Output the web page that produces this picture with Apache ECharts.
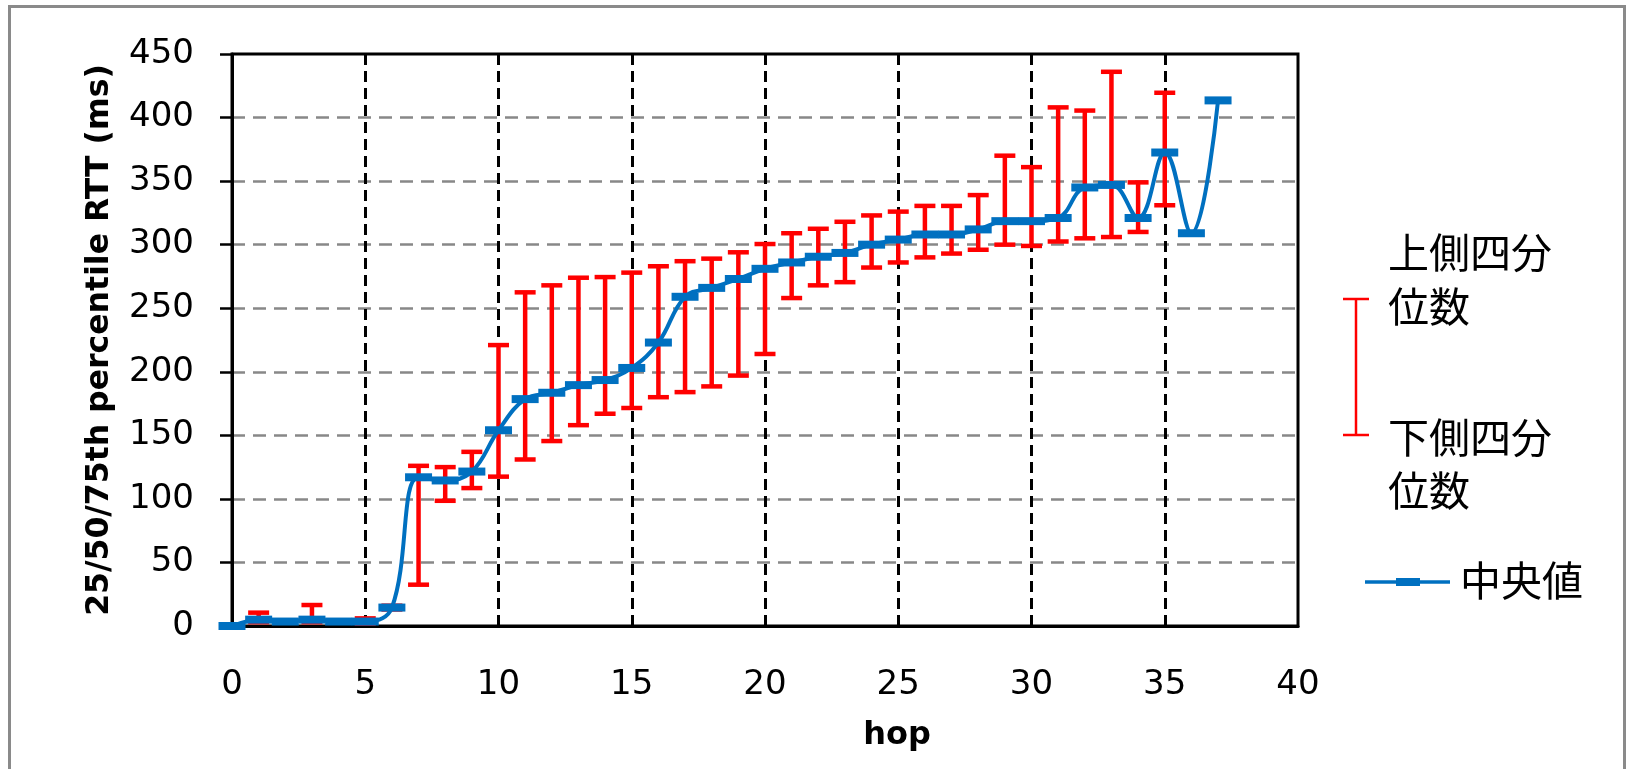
<!DOCTYPE html>
<html>
<head>
<meta charset="utf-8">
<script src="https://cdn.jsdelivr.net/npm/echarts@6/dist/echarts.min.js"></script>
<style>
html, body { margin: 0; padding: 0; background: #fff; }
#main { width: 1626px; height: 769px; }
</style>
</head>
<body>
<div id="main"></div>
<script>
// hop number
var hops = [0, 1, 2, 3, 4, 5, 6, 7, 8, 9, 10, 11, 12, 13, 14, 15, 16, 17, 18, 19,
            20, 21, 22, 23, 24, 25, 26, 27, 28, 29, 30, 31, 32, 33, 34, 35, 36, 37];
// 中央値 (ms)
var median = [0, 5, 3.5, 5, 3.5, 3.5, 14.5, 117, 114.5, 121.5,
              154, 178.5, 183.5, 189.5, 193.5, 203, 223, 259, 266, 273,
              281, 286, 290.5, 293.5, 300, 304, 308, 308, 312, 318.5,
              318.5, 321, 345, 347, 321, 372.5, 309, 413.5];
// 下側四分位数 (ms)
var lowerQ = [null, 3, null, 3, null, 2, 13, 32.5, 98.5, 108.5,
              117.5, 131, 145.5, 158, 167, 171.5, 180, 184, 188.5, 197,
              214, 258, 268, 270.5, 282, 286, 290, 293, 296, 300,
              299, 302.5, 305, 306, 310, 331, null, null];
// 上側四分位数 (ms)
var upperQ = [null, 10.5, null, 16.5, null, 6, 16, 126, 125, 137,
              221, 262.5, 268, 274, 274.5, 278, 283, 287, 289, 294,
              300.5, 309, 312.5, 318, 323, 326, 330.5, 330.5, 339, 370,
              361, 408, 405.5, 436, 349, 419.5, null, null];

var xTicks = { min: 0, max: 40, interval: 5 };
var yTicks = { min: 0, max: 450, interval: 50 };

var lineData = hops.map(function (h, i) { return [h, median[i]]; });
var barData = [];
hops.forEach(function (h, i) {
    if (lowerQ[i] != null && upperQ[i] != null) barData.push([h, lowerQ[i], upperQ[i]]);
});

var chart = echarts.init(document.getElementById('main'));
var red = '#FF0000';
var blue = '#0070C0';

var option = {
    backgroundColor: '#fff',
    animation: false,
    grid: {
        left: 232, right: 328, top: 54, bottom: 143,
        show: true, borderColor: '#000', borderWidth: 3, backgroundColor: 'transparent'
    },
    xAxis: {
        type: 'value',
        min: xTicks.min, max: xTicks.max, interval: xTicks.interval,
        name: 'hop',
        nameLocation: 'middle',
        nameGap: 94,
        nameTextStyle: {
            fontFamily: 'DejaVu Sans', fontWeight: 'bold', fontSize: 32, color: '#000',
            padding: [0, 0, 0, 264]
        },
        axisLine: { show: true, lineStyle: { color: '#000', width: 3 } },
        axisTick: { show: false },
        axisLabel: { margin: 42, fontFamily: 'DejaVu Sans', fontSize: 34, color: '#000' },
        splitLine: {
            show: true, showMinLine: false, showMaxLine: false,
            lineStyle: { color: '#000', width: 3, type: [11, 6] }
        }
    },
    yAxis: {
        type: 'value',
        min: yTicks.min, max: yTicks.max, interval: yTicks.interval,
        name: '25/50/75th percentile RTT (ms)',
        nameLocation: 'middle',
        nameRotate: 90,
        nameGap: 116,
        nameTextStyle: { fontFamily: 'DejaVu Sans', fontWeight: 'bold', fontSize: 31.5, color: '#000' },
        axisLine: { show: true, lineStyle: { color: '#000', width: 3 } },
        axisTick: { show: true, length: 12, lineStyle: { color: '#000', width: 2.5 } },
        axisLabel: { margin: 38, fontFamily: 'DejaVu Sans', fontSize: 34, color: '#000' },
        splitLine: {
            show: true, showMinLine: false, showMaxLine: false,
            lineStyle: { color: '#888888', width: 2.5, type: [13, 8] }
        }
    },
    series: [
        {
            name: '四分位数',
            type: 'custom',
            z: 1,
            clip: false,
            data: barData,
            renderItem: function (params, api) {
                var x = api.value(0);
                var top = api.coord([x, api.value(2)]);
                var bot = api.coord([x, api.value(1)]);
                var half = 10.5;
                var st = { stroke: red, lineWidth: 4.5 };
                return {
                    type: 'group',
                    children: [
                        { type: 'line', shape: { x1: top[0], y1: top[1], x2: bot[0], y2: bot[1] }, style: st },
                        { type: 'line', shape: { x1: top[0] - half, y1: top[1], x2: top[0] + half, y2: top[1] }, style: st },
                        { type: 'line', shape: { x1: bot[0] - half, y1: bot[1], x2: bot[0] + half, y2: bot[1] }, style: st }
                    ]
                };
            }
        },
        {
            name: '中央値',
            type: 'line',
            z: 3,
            clip: false,
            smooth: 0.4,
            data: lineData,
            symbol: 'rect',
            symbolSize: [27, 8],
            showAllSymbol: true,
            lineStyle: { color: blue, width: 4 },
            itemStyle: { color: blue }
        }
    ],
    graphic: [
        {
            type: 'rect', silent: true, z: 0,
            shape: { x: 9.5, y: 6.5, width: 1615, height: 800 },
            style: { fill: 'none', stroke: '#8a8a8a', lineWidth: 3 }
        },
        // legend: error bar
        { type: 'line', shape: { x1: 1356, y1: 299, x2: 1356, y2: 435 }, style: { stroke: red, lineWidth: 2.5 } },
        { type: 'line', shape: { x1: 1343, y1: 299, x2: 1369, y2: 299 }, style: { stroke: red, lineWidth: 2.5 } },
        { type: 'line', shape: { x1: 1343, y1: 435, x2: 1369, y2: 435 }, style: { stroke: red, lineWidth: 2.5 } },
        { type: 'text', x: 1388, y: 252, style: { text: '上側四分', fontFamily: 'Noto Sans CJK JP', fontSize: 41, fill: '#000', verticalAlign: 'middle' } },
        { type: 'text', x: 1388, y: 306, style: { text: '位数', fontFamily: 'Noto Sans CJK JP', fontSize: 41, fill: '#000', verticalAlign: 'middle' } },
        { type: 'text', x: 1388, y: 437, style: { text: '下側四分', fontFamily: 'Noto Sans CJK JP', fontSize: 41, fill: '#000', verticalAlign: 'middle' } },
        { type: 'text', x: 1388, y: 490, style: { text: '位数', fontFamily: 'Noto Sans CJK JP', fontSize: 41, fill: '#000', verticalAlign: 'middle' } },
        // legend: median line
        { type: 'line', shape: { x1: 1365, y1: 582, x2: 1450, y2: 582 }, style: { stroke: blue, lineWidth: 3.5 } },
        { type: 'rect', shape: { x: 1396, y: 578, width: 24, height: 8 }, style: { fill: blue } },
        { type: 'text', x: 1460, y: 580, style: { text: '中央値', fontFamily: 'Noto Sans CJK JP', fontSize: 41, fill: '#000', verticalAlign: 'middle' } }
    ]
};

chart.setOption(option);
</script>
</body>
</html>
